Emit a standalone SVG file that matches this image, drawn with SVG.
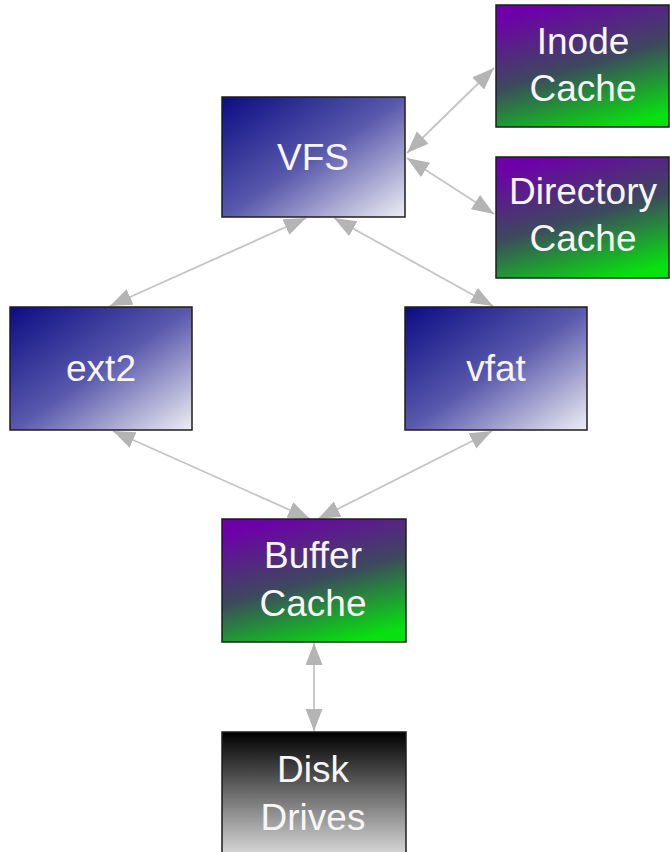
<svg xmlns="http://www.w3.org/2000/svg" width="670" height="852" viewBox="0 0 670 852">
  <defs>
    <linearGradient id="gBlue" x1="0" y1="0" x2="1" y2="1">
      <stop offset="0" stop-color="#0c0c84"/>
      <stop offset="0.5" stop-color="#5858ac"/>
      <stop offset="1" stop-color="#eeeef4"/>
    </linearGradient>
    <linearGradient id="gCache" x1="0.3" y1="0" x2="0.7" y2="1">
      <stop offset="0" stop-color="#6e00aa"/>
      <stop offset="0.5" stop-color="#3c4a5c"/>
      <stop offset="1" stop-color="#08e010"/>
    </linearGradient>
    <linearGradient id="gDisk" x1="0" y1="0" x2="0" y2="1">
      <stop offset="0" stop-color="#000000"/>
      <stop offset="1" stop-color="#dcdcdc"/>
    </linearGradient>
    <marker id="head" markerUnits="userSpaceOnUse" markerWidth="24" markerHeight="18" refX="22" refY="8.5" orient="auto-start-reverse">
      <path d="M0,0 L22,8.5 L0,17 z" fill="#b4b4b4"/>
    </marker>
  </defs>
  <style>
    .box { stroke: #1e1e1e; stroke-width: 1.5; }
    .label { font-family: "Liberation Sans", Arial, sans-serif; font-size: 37px; fill: #f6f6f6; text-anchor: middle; }
    .edge { stroke: #c4c4c4; stroke-width: 1.8; fill: none; marker-start: url(#head); marker-end: url(#head); }
  </style>
  <rect width="670" height="852" fill="#ffffff"/>

  <g id="connectors">
    <line class="edge" x1="407" y1="153" x2="494" y2="68"/>
    <line class="edge" x1="407" y1="158" x2="494" y2="214"/>
    <line class="edge" x1="306" y1="218" x2="110" y2="306"/>
    <line class="edge" x1="334" y1="218" x2="493" y2="306"/>
    <line class="edge" x1="113" y1="431" x2="310" y2="519"/>
    <line class="edge" x1="492" y1="431" x2="318" y2="519"/>
    <line class="edge" x1="314" y1="643" x2="314" y2="731"/>
  </g>

  <g id="vfs">
    <rect class="box" x="222" y="97" width="183" height="120" fill="url(#gBlue)"/>
    <text class="label" x="313" y="170">VFS</text>
  </g>
  <g id="inode-cache">
    <rect class="box" x="496" y="5" width="173" height="122" fill="url(#gCache)"/>
    <text class="label" x="583" y="54">Inode</text>
    <text class="label" x="583" y="101">Cache</text>
  </g>
  <g id="directory-cache">
    <rect class="box" x="496" y="157" width="173" height="121" fill="url(#gCache)"/>
    <text class="label" x="583" y="204">Directory</text>
    <text class="label" x="583" y="251">Cache</text>
  </g>
  <g id="ext2">
    <rect class="box" x="10" y="307" width="182" height="123" fill="url(#gBlue)"/>
    <text class="label" x="101" y="381">ext2</text>
  </g>
  <g id="vfat">
    <rect class="box" x="405" y="307" width="182" height="123" fill="url(#gBlue)"/>
    <text class="label" x="496" y="381">vfat</text>
  </g>
  <g id="buffer-cache">
    <rect class="box" x="222" y="519" width="184" height="123" fill="url(#gCache)"/>
    <text class="label" x="313" y="568">Buffer</text>
    <text class="label" x="313" y="616">Cache</text>
  </g>
  <g id="disk-drives">
    <rect class="box" x="222" y="732" width="184" height="125" fill="url(#gDisk)"/>
    <text class="label" x="313" y="782">Disk</text>
    <text class="label" x="313" y="830">Drives</text>
  </g>
</svg>
